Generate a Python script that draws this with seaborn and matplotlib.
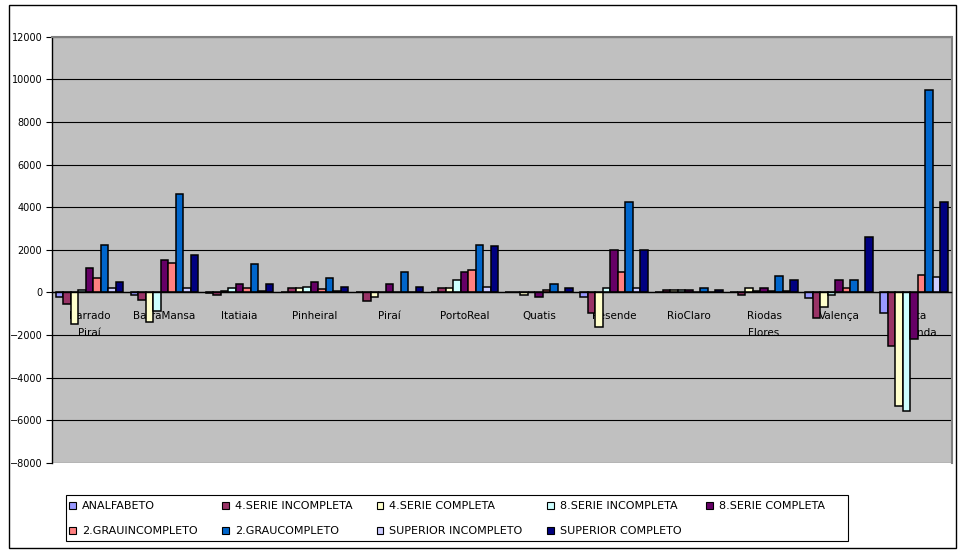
import matplotlib
matplotlib.use("Agg")
import matplotlib.pyplot as plt
from matplotlib.patches import Patch, Rectangle
import numpy as np
import pandas as pd
import seaborn as sns

# Municipalities (x categories)
municipios = ["Barrado\nPiraí", "BarraMansa", "Itatiaia", "Pinheiral", "Piraí",
              "PortoReal", "Quatis", "Resende", "RioClaro", "Riodas\nFlores",
              "Valença", "Volta\nRedonda"]

# Schooling levels (series)
escolaridade = ["ANALFABETO", "4.SERIE INCOMPLETA", "4.SERIE COMPLETA",
                "8.SERIE INCOMPLETA", "8.SERIE COMPLETA", "2.GRAUINCOMPLETO",
                "2.GRAUCOMPLETO", "SUPERIOR INCOMPLETO", "SUPERIOR COMPLETO"]

# Net change per schooling level, one value per municipality
analfabeto      = [-200, -110, -30, 0, 0, 0, 0, -200, 0, 0, -280, -940]
serie4_inc      = [-560, -340, -110, 200, -390, 200, 0, -940, 100, -110, -1220, -2530]
serie4_comp     = [-1500, -1400, 90, 200, -190, 200, -100, -1610, 100, 200, -660, -5340]
serie8_inc      = [120, -860, 200, 280, 0, 580, 0, 190, 100, 60, -110, -5550]
serie8_comp     = [1140, 1510, 390, 470, 390, 940, -200, 2000, 100, 200, 580, -2190]
grau2_inc       = [670, 1370, 190, 150, 30, 1050, 100, 940, 0, 60, 190, 830]
grau2_comp      = [2250, 4610, 1330, 670, 940, 2250, 390, 4250, 230, 750, 580, 9480]
superior_inc    = [190, 190, 60, 50, 0, 280, 0, 190, 0, 60, 30, 730]
superior_comp   = [470, 1780, 390, 280, 280, 2160, 220, 2000, 120, 580, 2620, 4250]

series = [analfabeto, serie4_inc, serie4_comp, serie8_inc, serie8_comp,
          grau2_inc, grau2_comp, superior_inc, superior_comp]

cores = ["#9999FF", "#993366", "#FFFFCC", "#CCFFFF", "#660066",
         "#FF8080", "#0066CC", "#CCCCFF", "#000080"]

df = pd.DataFrame({
    "municipio": np.tile(municipios, len(escolaridade)),
    "escolaridade": np.repeat(escolaridade, len(municipios)),
    "valor": np.concatenate(series),
})

sns.set_style("white")
plt.rcParams["font.family"] = ["DejaVu Sans"]
plt.rcParams["text.color"] = "black"
plt.rcParams["xtick.color"] = "black"
plt.rcParams["ytick.color"] = "black"
plt.rcParams["axes.labelcolor"] = "black"

W, H = 958, 550
fig = plt.figure(figsize=(W / 100, H / 100), dpi=100)
ax = fig.add_axes([52 / W, 1 - 463 / H, (951.5 - 52) / W, (463 - 36.7) / H])
ax.set_facecolor("#C0C0C0")

sns.barplot(data=df, x="municipio", y="valor", hue="escolaridade",
            order=municipios, hue_order=escolaridade, palette=cores,
            saturation=1, width=0.9, gap=0, edgecolor="black", linewidth=1.1,
            errorbar=None, legend=False, ax=ax, zorder=3)

ax.set_xlim(-0.5, len(municipios) - 0.5)
ax.set_ylim(-8000, 12000)
ax.set_yticks(np.arange(-8000, 12001, 2000))
ax.yaxis.grid(True, color="black", linewidth=0.8)
ax.set_axisbelow(True)
ax.set_xlabel("")
ax.set_ylabel("")

# Category axis drawn through zero, ticks at category boundaries
ax.spines["bottom"].set_position(("data", 0))
ax.spines["bottom"].set_color("black")
ax.spines["bottom"].set_linewidth(1.0)
ax.spines["bottom"].set_zorder(4)
ax.spines["left"].set_color("black")
ax.spines["left"].set_linewidth(1.0)
for s in ("top", "right"):
    ax.spines[s].set_color("#808080")
    ax.spines[s].set_linewidth(1.5)

ax.set_xticks(np.arange(len(municipios)))
ax.set_xticklabels(municipios, fontsize=7.5, linespacing=1.9, color="black")
ax.tick_params(axis="x", which="major", length=0, pad=13)
ax.set_xticks(np.arange(-0.5, len(municipios)), minor=True)
ax.tick_params(axis="x", which="minor", length=3, direction="out", color="black")

ax.tick_params(axis="y", length=4, direction="out", color="black", labelcolor="black",
               pad=3, labelsize=7, left=True)

# Legend below the plot area (entries row by row, frame drawn separately)
handles = [Patch(facecolor=c, edgecolor="black", linewidth=0.8) for c in cores]
ordem = [0, 5, 1, 6, 2, 7, 3, 8, 4]
leg = fig.legend([handles[i] for i in ordem], [escolaridade[i] for i in ordem],
                 ncol=5, loc="upper left", bbox_to_anchor=(69 / W, 1 - 501 / H),
                 frameon=False, fontsize=8, handlelength=0.6, handleheight=0.6,
                 handletextpad=0.55, borderaxespad=0, borderpad=0,
                 labelspacing=1.35, columnspacing=2.2)
for t in leg.get_texts():
    t.set_color("black")
fig.patches.append(Rectangle((66 / W, 1 - 541 / H), (848 - 66) / W, (541 - 495) / H,
                             transform=fig.transFigure, fill=False,
                             edgecolor="black", linewidth=0.8))

# Outer chart frame
fig.patches.append(Rectangle((9 / W, 2 / H), (956 - 9) / W, (545 - 2) / H,
                             transform=fig.transFigure, fill=False,
                             edgecolor="black", linewidth=1.0))

fig.savefig("out.png", dpi=100, facecolor="white")
